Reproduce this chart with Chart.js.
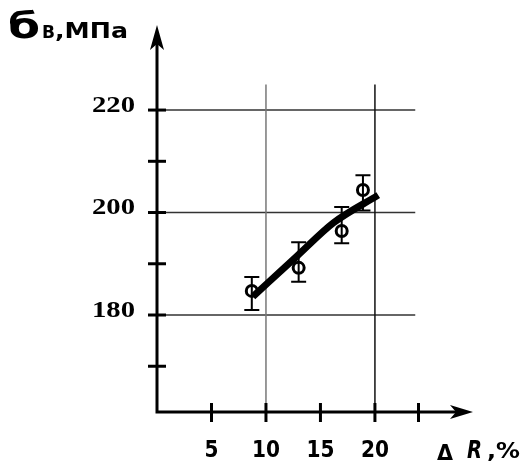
<!doctype html>
<html>
<head>
    <title>Strength vs R</title>
    <script src="https://cdn.jsdelivr.net/npm/chart.js@4.4.1/dist/chart.umd.min.js"></script>
    <style>
        body { margin: 0; background: #fff; }
    </style>
</head>
<body>
    <canvas id="chart-area" width="523" height="461"></canvas>
    <script>
    // values
    var xTicks = [5, 10, 15, 20, 24];
    var xTickLabels = ['5', '10', '15', '20', ''];
    var yTicks = [170, 180, 190, 200, 210, 220];
    var yTickLabels = ['', '180', '', '200', '', '220'];
    var xGrid = [10, 20];
    var yGrid = [180, 200, 220];
    var pointX = [8.7, 13.0, 16.95, 18.9];
    var pointY = [184.7, 189.2, 196.4, 204.4];
    var errLow = [181.0, 186.5, 194.0, 200.4];
    var errHigh = [187.4, 194.2, 201.1, 207.3];
    var fitX = [8.8, 12.8, 16.2, 20.3];
    var fitY = [183.6, 191.4, 198.0, 203.4];

    var xMin = 0, xMax = 29, yMin = 161.07, yMax = 236.6;
    var gridRight = 23.7, gridTop = 225;

    // draw text squeezed/stretched to a given width
    function fitText(ctx, text, x, y, font, width, align) {
        ctx.save();
        ctx.font = font;
        var w = ctx.measureText(text).width;
        var sx = width ? width / w : 1;
        var left = x;
        if (align === 'right') left = x - w * sx;
        if (align === 'center') left = x - w * sx / 2;
        ctx.translate(left, y);
        ctx.scale(sx, 1);
        ctx.textAlign = 'left';
        ctx.textBaseline = 'alphabetic';
        ctx.fillText(text, 0, 0);
        ctx.restore();
    }

    var axesPlugin = {
        id: 'axes',
        beforeDatasetsDraw: function(chart) {
            var ctx = chart.ctx;
            var xs = chart.scales.x, ys = chart.scales.y;
            var x0 = xs.getPixelForValue(xMin), y0 = ys.getPixelForValue(yMin);
            ctx.save();
            ctx.lineCap = 'butt';
            // grid
            ctx.lineWidth = 1.5;
            ctx.strokeStyle = '#333';
            yGrid.forEach(function(v) {
                var y = ys.getPixelForValue(v);
                ctx.beginPath();
                ctx.moveTo(x0, y);
                ctx.lineTo(xs.getPixelForValue(gridRight), y);
                ctx.stroke();
            });
            xGrid.forEach(function(v, i) {
                var x = xs.getPixelForValue(v);
                ctx.strokeStyle = i === 0 ? '#777' : '#111';
                ctx.beginPath();
                ctx.moveTo(x, ys.getPixelForValue(gridTop));
                ctx.lineTo(x, y0 + 10);
                ctx.stroke();
            });
            // axes
            ctx.strokeStyle = '#000';
            ctx.fillStyle = '#000';
            ctx.lineWidth = 3;
            var xEnd = xs.getPixelForValue(xMax), yEnd = ys.getPixelForValue(yMax);
            ctx.beginPath();
            ctx.moveTo(x0, yEnd + 10);
            ctx.lineTo(x0, y0);
            ctx.lineTo(xEnd - 10, y0);
            ctx.stroke();
            // arrows
            ctx.beginPath();
            ctx.moveTo(x0, yEnd);
            ctx.lineTo(x0 - 7, yEnd + 25);
            ctx.lineTo(x0, yEnd + 19);
            ctx.lineTo(x0 + 7, yEnd + 25);
            ctx.closePath();
            ctx.fill();
            ctx.beginPath();
            ctx.moveTo(xEnd, y0);
            ctx.lineTo(xEnd - 23, y0 - 7);
            ctx.lineTo(xEnd - 17, y0);
            ctx.lineTo(xEnd - 23, y0 + 7);
            ctx.closePath();
            ctx.fill();
            // tick marks
            yTicks.forEach(function(v) {
                var y = ys.getPixelForValue(v);
                ctx.beginPath();
                ctx.moveTo(x0 - 9, y);
                ctx.lineTo(x0 + 9, y);
                ctx.stroke();
            });
            xTicks.forEach(function(v) {
                var x = xs.getPixelForValue(v);
                ctx.beginPath();
                ctx.moveTo(x, y0 - 9);
                ctx.lineTo(x, y0 + 10);
                ctx.stroke();
            });
            // tick labels
            yTicks.forEach(function(v, i) {
                if (!yTickLabels[i]) return;
                fitText(ctx, yTickLabels[i], 135, ys.getPixelForValue(v) + 1.5,
                    'bold 24px "Liberation Serif"', 43, 'right');
            });
            xTicks.forEach(function(v, i) {
                if (!xTickLabels[i]) return;
                var w = xTickLabels[i].length === 1 ? 14 : 28;
                fitText(ctx, xTickLabels[i], xs.getPixelForValue(v), 457,
                    'bold 23px "DejaVu Sans"', w, 'center');
            });
            // error bars
            ctx.lineWidth = 2;
            pointX.forEach(function(v, i) {
                var x = xs.getPixelForValue(v);
                var yl = ys.getPixelForValue(errLow[i]), yh = ys.getPixelForValue(errHigh[i]);
                ctx.beginPath();
                ctx.moveTo(x, yl); ctx.lineTo(x, yh);
                ctx.moveTo(x - 7.5, yl); ctx.lineTo(x + 7.5, yl);
                ctx.moveTo(x - 7.5, yh); ctx.lineTo(x + 7.5, yh);
                ctx.stroke();
            });
            ctx.restore();
        },
        afterDraw: function(chart) {
            var ctx = chart.ctx;
            ctx.save();
            ctx.fillStyle = '#000';
            fitText(ctx, 'б', 8, 38, 'bold 36px "DejaVu Sans"', 32);
            fitText(ctx, 'В', 42, 38, 'bold 17px "DejaVu Sans"', 13);
            fitText(ctx, ',МПа', 55, 38, 'bold 21px "DejaVu Sans"', 73);
            fitText(ctx, 'Δ', 437, 460, 'bold 22px "DejaVu Sans"', 16);
            fitText(ctx, 'R', 467, 458, 'italic bold 24px "DejaVu Sans"', 15);
            fitText(ctx, ',%', 487, 458, 'bold 22px "DejaVu Sans"', 33);
            ctx.restore();
        }
    };

    var config = {
        type: 'scatter',
        data: {
            datasets: [{
                type: 'line',
                data: fitX.map(function(x, i) { return { x: x, y: fitY[i] }; }),
                borderColor: '#000',
                borderWidth: 7,
                pointRadius: 0,
                tension: 0.4,
                cubicInterpolationMode: 'monotone',
                fill: false
            }, {
                data: pointX.map(function(x, i) { return { x: x, y: pointY[i] }; }),
                pointStyle: 'circle',
                pointRadius: 5.5,
                borderWidth: 3,
                borderColor: '#000',
                backgroundColor: 'rgba(0,0,0,0)'
            }]
        },
        options: {
            responsive: false,
            animation: false,
            layout: { padding: { left: 157, right: 50, top: 25, bottom: 49 } },
            scales: {
                x: { type: 'linear', display: false, min: xMin, max: xMax },
                y: { type: 'linear', display: false, min: yMin, max: yMax }
            },
            plugins: { legend: { display: false }, tooltip: { enabled: false } }
        },
        plugins: [axesPlugin]
    };

    window.onload = function() {
        var ctx = document.getElementById('chart-area').getContext('2d');
        window.myChart = new Chart(ctx, config);
    };
    </script>
</body>
</html>
